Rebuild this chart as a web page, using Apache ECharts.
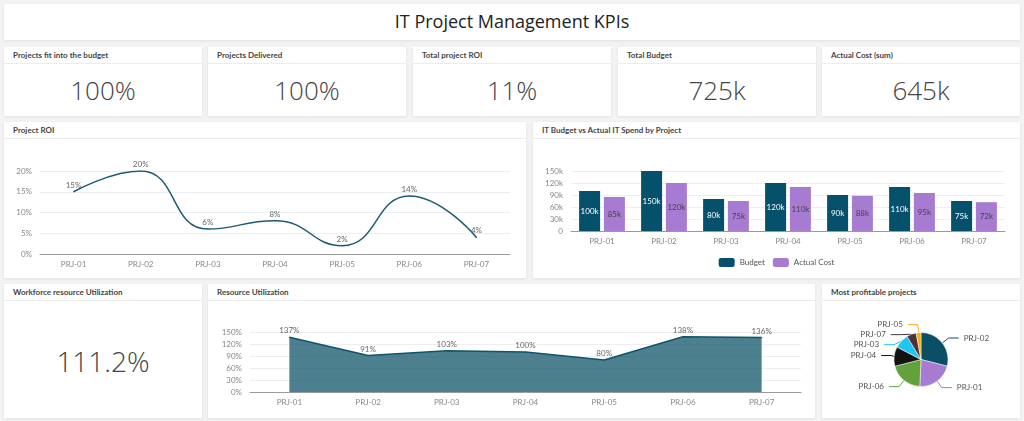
<!DOCTYPE html>
<html>
<head>
<meta charset="utf-8">
<script src="https://cdn.jsdelivr.net/npm/echarts@6/dist/echarts.min.js"></script>
<style>
  html, body { margin:0; padding:0; width:1024px; height:421px; overflow:hidden; background:#f3f3f3; font-family: Lato, "Open Sans", sans-serif; }
  .card { position:absolute; background:#fff; box-shadow:0 1px 3px rgba(0,0,0,0.08); box-sizing:border-box; }
  .hdr { position:absolute; left:0; right:0; top:0; border-bottom:1px solid #ececec; font-family:Lato, sans-serif; font-weight:700; font-size:8px; color:#444; padding-left:9px; box-sizing:border-box; }
  .val { position:absolute; left:0; right:0; text-align:center; font-family:"Open Sans", sans-serif; font-weight:300; color:#444; }
  .chart { position:absolute; left:0; right:0; bottom:0; }
  #title { font-family:"Open Sans", sans-serif; font-size:18px; color:#222; text-align:center; line-height:35px; }
</style>
</head>
<body>
<div id="root"></div>
<script>
// ---- Data ----
const dashTitle = "IT Project Management KPIs";
const kpiTitles = ["Projects fit into the budget", "Projects Delivered", "Total project ROI", "Total Budget", "Actual Cost (sum)"];
const kpiValues = ["100%", "100%", "11%", "725k", "645k"];
const workforceTitle = "Workforce resource Utilization";
const workforceValue = "111.2%";
const projects = ["PRJ-01", "PRJ-02", "PRJ-03", "PRJ-04", "PRJ-05", "PRJ-06", "PRJ-07"];
const roi = [15, 20, 6, 8, 2, 14, 4];
const budget = [100000, 150000, 80000, 120000, 90000, 110000, 75000];
const actualCost = [85000, 120000, 75000, 110000, 88000, 95000, 72000];
const utilization = [137, 91, 103, 100, 80, 138, 136];
const pieColors = {"PRJ-01":"#a77bd1","PRJ-02":"#0a4f66","PRJ-03":"#22c5ef","PRJ-04":"#121212","PRJ-05":"#f4b010","PRJ-06":"#63a23b","PRJ-07":"#4b3340"};
const chartTitles = ["Project ROI", "IT Budget vs Actual IT Spend by Project", "Resource Utilization", "Most profitable projects"];

// ---- Layout ----
const root = document.getElementById('root');
function card(x, y, w, h, title) {
  const c = document.createElement('div');
  c.className = 'card';
  c.style.left = x + 'px'; c.style.top = y + 'px'; c.style.width = w + 'px'; c.style.height = h + 'px';
  if (title !== undefined) {
    const hd = document.createElement('div');
    hd.className = 'hdr';
    hd.style.height = '17px'; hd.style.lineHeight = '17px';
    hd.textContent = title;
    c.appendChild(hd);
  }
  root.appendChild(c);
  return c;
}
const t = card(4, 4, 1016, 36);
t.id = 'title'; t.textContent = dashTitle;

const kx = [4, 208, 413, 618, 822];
kpiTitles.forEach((tt, i) => {
  const c = card(kx[i], 47, 198, 69, tt);
  const v = document.createElement('div');
  v.className = 'val'; v.style.top = '26px'; v.style.fontSize = '26px'; v.style.lineHeight = '34px';
  v.textContent = kpiValues[i];
  c.appendChild(v);
});

const wc = card(4, 284, 198, 134, workforceTitle);
const wv = document.createElement('div');
wv.className = 'val'; wv.style.top = '59px'; wv.style.fontSize = '28px'; wv.style.lineHeight = '36px';
wv.textContent = workforceValue; wc.appendChild(wv);

function chartCard(x, y, w, h, title) {
  const c = card(x, y, w, h, title);
  const d = document.createElement('div');
  d.className = 'chart';
  d.style.top = '17px';
  d.style.width = w + 'px'; d.style.height = (h - 17) + 'px';
  c.appendChild(d);
  return echarts.init(d);
}

const axisLabelStyle = { color:'#888', fontSize:8, fontFamily:'Lato' };
const splitLine = { lineStyle:{ color:'#eceef4' } };
const xAxisCommon = {
  type:'category', data:projects,
  axisLine:{ lineStyle:{ color:'#9a9a9a' } },
  axisTick:{ lineStyle:{ color:'#9a9a9a' } },
  axisLabel:Object.assign({ margin:6 }, axisLabelStyle)
};

// Project ROI
const c1 = chartCard(4, 122, 522, 156, chartTitles[0]);
c1.setOption({
  animation:false,
  grid:{ left:36, right:16, top:32, bottom:24 },
  xAxis:xAxisCommon,
  yAxis:{ type:'value', min:0, max:20, interval:5, axisLabel:Object.assign({ formatter:'{value}%' }, axisLabelStyle), splitLine:splitLine },
  series:[{ type:'line', data:roi, smooth:true, symbol:'circle', symbolSize:1,
    lineStyle:{ color:'#1b5b73', width:1.5 }, itemStyle:{ color:'#1b5b73' },
    label:{ show:true, position:'top', distance:2, formatter:'{c}%', color:'#666', fontSize:8, fontFamily:'Lato' } }]
});

// Budget vs Actual
const c2 = chartCard(533, 122, 487, 156, chartTitles[1]);
const kfmt = p => (p.value / 1000) + 'k';
c2.setOption({
  animation:false,
  grid:{ left:38, right:15, top:32, bottom:47 },
  legend:{ bottom:6, itemWidth:16, itemHeight:9, itemGap:8, icon:'roundRect', textStyle:{ color:'#555', fontSize:8, fontFamily:'Lato' } },
  xAxis:xAxisCommon,
  yAxis:{ type:'value', min:0, max:150000, interval:30000, axisLabel:Object.assign({ formatter: v => v === 0 ? '0' : (v/1000)+'k' }, axisLabelStyle), splitLine:splitLine },
  series:[
    { name:'Budget', type:'bar', data:budget, barWidth:21, barGap:'18%', itemStyle:{ color:'#05506a' },
      label:{ show:true, position:'inside', formatter:kfmt, color:'#fff', fontSize:8, fontFamily:'Lato' } },
    { name:'Actual Cost', type:'bar', data:actualCost, barWidth:21, itemStyle:{ color:'#a77bd1' },
      label:{ show:true, position:'inside', formatter:kfmt, color:'#444', fontSize:8, fontFamily:'Lato' } }
  ]
});

// Resource Utilization
const c3 = chartCard(208, 284, 607, 134, chartTitles[2]);
c3.setOption({
  animation:false,
  grid:{ left:42, right:14, top:31, bottom:26 },
  xAxis:xAxisCommon,
  yAxis:{ type:'value', min:0, max:150, interval:30, axisLabel:Object.assign({ formatter:'{value}%' }, axisLabelStyle), splitLine:splitLine },
  series:[{ type:'line', data:utilization, symbol:'circle', symbolSize:1,
    lineStyle:{ color:'#0f5468', width:1.5 }, itemStyle:{ color:'#0f5468' },
    areaStyle:{ color:'#0f5468', opacity:0.74 },
    label:{ show:true, position:'top', distance:2, formatter:'{c}%', color:'#666', fontSize:8, fontFamily:'Lato' } }]
});

// Most profitable projects (pie)
const c4 = chartCard(822, 284, 198, 134, chartTitles[3]);
const pieData = projects.map((p, i) => ({ name:p, value:roi[i], itemStyle:{ color:pieColors[p] } }))
  .sort((a, b) => b.value - a.value);
c4.setOption({
  animation:false,
  series:[{ type:'pie', radius:27, center:['50%', '50%'], startAngle:90, clockwise:true, data:pieData,
    itemStyle:{ borderColor:'#fff', borderWidth:0.5 },
    label:{ color:'#555', fontSize:8, fontFamily:'Lato' },
    labelLine:{ length:8, length2:10, lineStyle:{ width:1 } } }]
});
</script>
</body>
</html>
